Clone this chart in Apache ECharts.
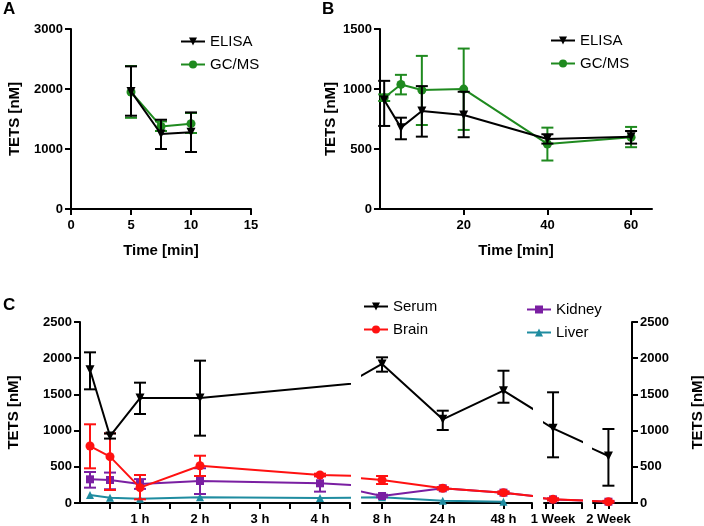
<!DOCTYPE html>
<html>
<head>
<meta charset="utf-8">
<script src="https://cdn.jsdelivr.net/npm/echarts@6/dist/echarts.min.js"></script>
<style>html,body{margin:0;padding:0;background:#fff}#c{width:704px;height:526px}</style>
</head>
<body>
<div id="c"></div>
<script>
// ---------- Panel A (Time in min) ----------
const timesA = [5, 7.5, 10];
const elisaA = [1960, 1250, 1280];
const elisaALo = [1555, 1000, 950];
const elisaAHi = [2377, 1488, 1610];
const gcmsA = [1950, 1377, 1422];
const gcmsALo = [1520, 1300, 1267];
const gcmsAHi = [2383, 1460, 1600];

// ---------- Panel B (Time in min) ----------
const timesB = [1, 5, 10, 20, 40, 60];
const elisaB = [908, 678, 816, 783, 584, 603];
const elisaBLo = [692, 581, 603, 598, 545, 545];
const elisaBHi = [1068, 761, 1024, 977, 623, 650];
const gcmsB = [927, 1038, 991, 999, 542, 598];
const gcmsBLo = [900, 955, 700, 659, 404, 515];
const gcmsBHi = [955, 1118, 1276, 1337, 678, 684];

// ---------- Panel C ----------
const timeLabelsC = ['10 min', '30 min', '1 h', '2 h', '4 h', '8 h', '24 h', '48 h', '1 Week', '2 Week'];
const hoursC = [1/6, 0.5, 1, 2, 4, 8, 24, 48, 168, 336];
const serum   = [1840, 925, 1450, 1450, null, 1920, 1156, 1551, 1031, 649];
const serumLo = [1570, 890, 1229, 930, null, 1814, 1008, 1385, 631, 239];
const serumHi = [2081, 960, 1662, 1966, null, 2012, 1275, 1827, 1529, 1022];
const brain   = [787, 640, 212, 515, 387, 318, 203, 143, 51, 18];
const brainLo = [479, 180, 51, 373, 370, 262, 185, 125, 35, 5];
const brainHi = [1087, 963, 387, 653, 405, 373, 220, 160, 65, 30];
const kidney   = [327, 318, 262, 304, 272, 97, 203, 143, 50, 18];
const kidneyLo = [212, 190, 195, 124, 157, 80, 190, 130, 40, 10];
const kidneyHi = [428, 420, 330, 480, 370, 115, 215, 155, 60, 25];
const liver   = [110, 73, 60, 78, 70, 78, 32, 18, null, null];

const FONT = 'Liberation Sans, Arial, Helvetica, sans-serif';
const BLACK = '#000000', GREEN = '#1f8a1f', RED = '#ff1111', PURPLE = '#7a1fa2', TEAL = '#1f8ca0';

function xAxisDef(gridIndex, o) {
  return {
    type: 'value', gridIndex, min: o.min, max: o.max, interval: o.interval,
    axisLine: { show: true, onZero: false, lineStyle: { color: BLACK, width: 2 } },
    axisTick: Object.assign({ show: true, length: 6, lineStyle: { color: BLACK, width: 2 } }, o.tick || {}),
    axisLabel: Object.assign({ show: true, color: BLACK, fontWeight: 'bold', fontSize: 13, fontFamily: FONT, margin: 10,
      formatter: v => String(v) }, o.label || {}),
    splitLine: { show: false },
    name: o.name || '', nameLocation: 'middle', nameGap: o.nameGap || 36,
    nameTextStyle: { color: BLACK, fontWeight: 'bold', fontSize: 15, fontFamily: FONT }
  };
}
function yAxisDef(gridIndex, o) {
  return {
    type: 'value', gridIndex, min: 0, max: o.max, interval: o.interval, position: o.position || 'left',
    show: o.show !== false,
    axisLine: { show: true, onZero: false, lineStyle: { color: BLACK, width: 2 } },
    axisTick: { show: true, length: 6, lineStyle: { color: BLACK, width: 2 } },
    axisLabel: { show: true, color: BLACK, fontWeight: 'bold', fontSize: 13, fontFamily: FONT, margin: 8,
      formatter: v => String(v) },
    splitLine: { show: false },
    name: o.name || '', nameLocation: 'middle', nameGap: o.nameGap || 50, nameRotate: 90,
    nameTextStyle: { color: BLACK, fontWeight: 'bold', fontSize: 15, fontFamily: FONT }
  };
}

function errSeries(axisIdx, pts, color, z) {
  return {
    type: 'custom', xAxisIndex: axisIdx, yAxisIndex: axisIdx, silent: true, z,
    data: pts, encode: { x: 0, y: [1, 2] },
    renderItem: function (params, api) {
      const x = api.value(0), lo = api.value(1), hi = api.value(2);
      const a = api.coord([x, hi]), b = api.coord([x, lo]);
      const w = 6, st = { stroke: color, lineWidth: 2 };
      return { type: 'group', children: [
        { type: 'line', shape: { x1: a[0], y1: a[1], x2: b[0], y2: b[1] }, style: st },
        { type: 'line', shape: { x1: a[0] - w, y1: a[1], x2: a[0] + w, y2: a[1] }, style: st },
        { type: 'line', shape: { x1: b[0] - w, y1: b[1], x2: b[0] + w, y2: b[1] }, style: st }
      ] };
    }
  };
}
function lineSeries(name, axisIdx, data, color, symbol, size, rotate, z) {
  return {
    type: 'line', name, xAxisIndex: axisIdx, yAxisIndex: axisIdx, data, clip: true,
    symbol, symbolSize: size, symbolRotate: rotate || 0, showSymbol: true,
    lineStyle: { color, width: 2 }, itemStyle: { color, borderWidth: 0 }, z
  };
}
function zipPts(xs, ys) { return xs.map((x, i) => [x, ys[i]]); }
function zipErr(xs, lo, hi) { return xs.map((x, i) => [x, lo[i], hi[i]]); }

// Panel C helpers: segment 1 uses hours; later segments use an index axis (8 h = 0, 24 h = 1, ...)
const EARLY = 5;
function segEarlyData(vals) {
  const d = [];
  for (let i = 0; i < EARLY; i++) if (vals[i] != null) d.push([hoursC[i], vals[i]]);
  for (let i = EARLY; i < vals.length; i++) if (vals[i] != null) { d.push([hoursC[i], vals[i]]); break; }
  return d;
}
function segLateData(vals) {
  const d = [];
  for (let i = EARLY - 1; i >= 0; i--) if (vals[i] != null) { d.push([-1, vals[i]]); break; }
  for (let i = EARLY; i < vals.length; i++) if (vals[i] != null) d.push([i - EARLY, vals[i]]);
  return d;
}
function errEarly(lo, hi) {
  const d = [];
  for (let i = 0; i < EARLY; i++) if (lo[i] != null) d.push([hoursC[i], lo[i], hi[i]]);
  return d;
}
function errLate(lo, hi, from, to) {
  const d = [];
  for (let i = EARLY; i < lo.length; i++) { const p = i - EARLY; if (lo[i] != null && p >= from && p <= to) d.push([p, lo[i], hi[i]]); }
  return d;
}

const segWin = [[-0.33, 2.47], [2.85, 3.48], [3.745, 4.39]];
const lateLabel = v => timeLabelsC[EARLY + Math.round(v)];

const xAxes = [
  xAxisDef(0, { min: 0, max: 15, interval: 5, name: 'Time [min]', nameGap: 34 }),
  xAxisDef(1, { min: 0, max: 65, interval: 20, name: 'Time [min]', nameGap: 34,
    tick: { customValues: [20, 40, 60] }, label: { customValues: [20, 40, 60] } }),
  xAxisDef(2, { min: 0, max: 4.5, interval: 0.5,
    tick: { customValues: [0.5, 1, 1.5, 2, 2.5, 3, 3.5, 4, 4.5] },
    label: { customValues: [1, 2, 3, 4], formatter: v => v + ' h' } }),
  xAxisDef(3, { min: segWin[0][0], max: segWin[0][1],
    tick: { customValues: [0, 1, 2, segWin[0][1]] },
    label: { customValues: [0, 1, 2], formatter: lateLabel } }),
  xAxisDef(4, { min: segWin[1][0], max: segWin[1][1],
    tick: { customValues: [2.88, 3, segWin[1][1]] },
    label: { customValues: [3], formatter: lateLabel } }),
  xAxisDef(5, { min: segWin[2][0], max: segWin[2][1],
    tick: { customValues: [3.77, 4] },
    label: { customValues: [4], formatter: lateLabel } })
];
const yAxes = [
  yAxisDef(0, { max: 3000, interval: 1000, name: 'TETS [nM]', nameGap: 49 }),
  yAxisDef(1, { max: 1500, interval: 500, name: 'TETS [nM]', nameGap: 42 }),
  yAxisDef(2, { max: 2500, interval: 500, name: 'TETS [nM]', nameGap: 59 }),
  yAxisDef(3, { max: 2500, interval: 500, show: false }),
  yAxisDef(4, { max: 2500, interval: 500, show: false }),
  yAxisDef(5, { max: 2500, interval: 500, position: 'right', name: 'TETS [nM]', nameGap: 58 })
];

const series = [];
// Panel A
series.push(errSeries(0, zipErr(timesA, gcmsALo, gcmsAHi), GREEN, 2));
series.push(lineSeries('GC/MS', 0, zipPts(timesA, gcmsA), GREEN, 'circle', 9, 0, 3));
series.push(errSeries(0, zipErr(timesA, elisaALo, elisaAHi), BLACK, 4));
series.push(lineSeries('ELISA', 0, zipPts(timesA, elisaA), BLACK, 'triangle', 9, 180, 5));
// Panel B
series.push(errSeries(1, zipErr(timesB, gcmsBLo, gcmsBHi), GREEN, 2));
series.push(lineSeries('GC/MS', 1, zipPts(timesB, gcmsB), GREEN, 'circle', 9, 0, 3));
series.push(errSeries(1, zipErr(timesB, elisaBLo, elisaBHi), BLACK, 4));
series.push(lineSeries('ELISA', 1, zipPts(timesB, elisaB), BLACK, 'triangle', 9, 180, 5));

// Panel C
const cDefs = [
  { name: 'Serum', vals: serum, lo: serumLo, hi: serumHi, color: BLACK, sym: 'triangle', size: 9, rot: 180, z: 8 },
  { name: 'Brain', vals: brain, lo: brainLo, hi: brainHi, color: RED, sym: 'circle', size: 9, rot: 0, z: 6 },
  { name: 'Kidney', vals: kidney, lo: kidneyLo, hi: kidneyHi, color: PURPLE, sym: 'rect', size: 8, rot: 0, z: 4 },
  { name: 'Liver', vals: liver, lo: null, hi: null, color: TEAL, sym: 'triangle', size: 8, rot: 0, z: 2 }
];
cDefs.forEach(s => {
  series.push(lineSeries(s.name, 2, segEarlyData(s.vals), s.color, s.sym, s.size, s.rot, s.z + 1));
  if (s.lo) series.push(errSeries(2, errEarly(s.lo, s.hi), s.color, s.z));
  for (let g = 0; g < 3; g++) {
    series.push(lineSeries(s.name, 3 + g, segLateData(s.vals), s.color, s.sym, s.size, s.rot, s.z + 1));
    if (s.lo) series.push(errSeries(3 + g, errLate(s.lo, s.hi, segWin[g][0], segWin[g][1]), s.color, s.z));
  }
});

function legendDef(data, left, top) {
  return {
    data, orient: 'vertical', left, top, padding: 0, itemGap: 8, itemWidth: 24, itemHeight: 10,
    selectedMode: false,
    textStyle: { color: BLACK, fontSize: 15, fontFamily: FONT }
  };
}

const option = {
  animation: false,
  backgroundColor: '#ffffff',
  textStyle: { fontFamily: FONT },
  title: [
    { text: 'A', left: 3, top: 1, padding: 0, textStyle: { fontSize: 17, fontWeight: 'bold', color: BLACK, fontFamily: FONT } },
    { text: 'B', left: 322, top: 1, padding: 0, textStyle: { fontSize: 17, fontWeight: 'bold', color: BLACK, fontFamily: FONT } },
    { text: 'C', left: 3, top: 297, padding: 0, textStyle: { fontSize: 17, fontWeight: 'bold', color: BLACK, fontFamily: FONT } }
  ],
  legend: [
    legendDef(['ELISA', 'GC/MS'], 180, 34),
    legendDef(['ELISA', 'GC/MS'], 550, 33),
    legendDef(['Serum', 'Brain'], 363, 299),
    legendDef(['Kidney', 'Liver'], 526, 302)
  ],
  grid: [
    { left: 71, top: 29, width: 180, height: 180, outerBoundsMode: 'none' },
    { left: 380, top: 29, width: 272, height: 180, outerBoundsMode: 'none' },
    { left: 80, top: 322, width: 270, height: 181, outerBoundsMode: 'none' },
    { left: 362, top: 322, width: 170, height: 181, outerBoundsMode: 'none' },
    { left: 544, top: 322, width: 38, height: 181, outerBoundsMode: 'none' },
    { left: 593, top: 322, width: 39, height: 181, outerBoundsMode: 'none' }
  ],
  xAxis: xAxes,
  yAxis: yAxes,
  series
};

const chart = echarts.init(document.getElementById('c'), null, { renderer: 'canvas' });
chart.setOption(option);
</script>
</body>
</html>
